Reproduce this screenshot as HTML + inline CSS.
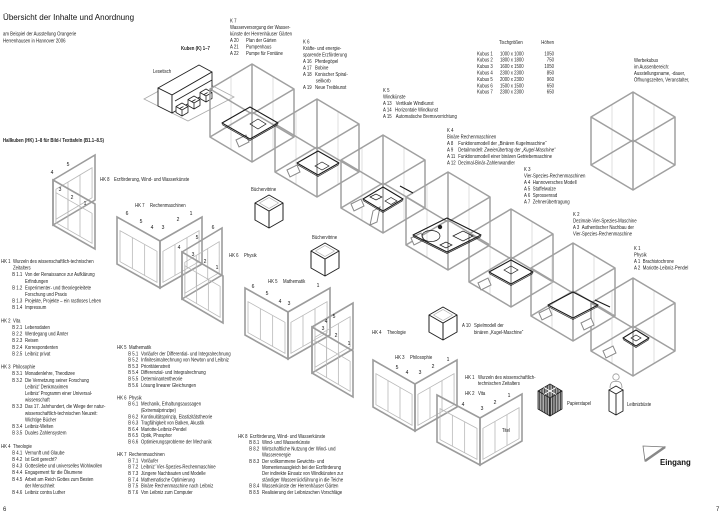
<!DOCTYPE html>
<html><head><meta charset="utf-8">
<style>
html,body{margin:0;padding:0;background:#fff;}
svg{display:block}
text{font-family:"Liberation Sans",sans-serif;font-size:5.4px;fill:#222}
.b{font-weight:bold}
.nm text{font-size:5px;fill:#111;text-anchor:middle}
.w rect{fill:none;stroke:#9c9c9c;stroke-width:1.6;vector-effect:non-scaling-stroke}
.w path{fill:none;stroke:#b8b8b8;stroke-width:.8;vector-effect:non-scaling-stroke}
</style></head><body>
<svg width="726" height="520" viewBox="0 0 726 520" xmlns="http://www.w3.org/2000/svg">
<defs>
<g id="cube" fill="none">
<path stroke="#d2d2d2" stroke-width=".7" d="M-21 12.5V60.5M21 12.5V60.5M-21 37.5V85.5M21 37.5V85.5"/>
<path stroke="#a0a0a0" stroke-width="1.5" stroke-linejoin="round" d="M0 0L42 25V73L0 98L-42 73V25ZM-42 25L0 50L42 25M0 50V98M0 0V48M-42 73L0 48L42 73"/>
</g>
<g id="sc">
<path fill="#fff" stroke="#222" stroke-width="1" stroke-linejoin="round" d="M0 0L14 8V25L0 33L-14 25V8Z"/>
<path fill="none" stroke="#222" stroke-width="1" d="M-14 8L0 16L14 8M0 16V33"/>
<path fill="none" stroke="#aaa" stroke-width=".6" d="M0 2.5L9.5 8L0 13.5L-9.5 8Z"/>
</g>
<g id="st">
<path fill="#fff" stroke="#222" stroke-width=".8" stroke-linejoin="round" d="M0 0L6 3.5V9.5L0 13L-6 9.5V3.5ZM-6 3.5L0 7L6 3.5M0 7V13"/>
</g>
<path id="sg" d="M0 2L10-3L13 4L3 9Z"/>
<pattern id="h" width="1.6" height="4" patternUnits="userSpaceOnUse"><rect width="1.6" height="4" fill="#ddd"/><rect width="0.9" height="4" fill="#333"/></pattern>
</defs>

<!-- Title block -->
<g transform="translate(3,0) scale(.96,1)"><text y="20" style="font-size:8.4px;fill:#111">Übersicht der Inhalte und Anordnung</text></g>
<g transform="translate(3,0) scale(.8,1)">
<text y="35.5">am Beispiel der Ausstellung Orangerie</text>
<text y="42.5">Herrenhausen in Hannover 2006</text>
<text y="142" class="b">Hallkuben (HK) 1–8 für Bild-/ Texttafeln (B1.1–8.5)</text>
</g>

<!-- Lesetisch -->
<polygon fill="none" stroke="#aaa" stroke-width=".8" points="144,99 190,74 234,97 188,121"/>
<g fill="#fff" stroke="#222" stroke-width=".9" stroke-linejoin="round">
<polygon points="158,88 199,65 212,72 172,95"/>
<polygon points="158,88 172,95 172,113 158,106"/>
<polygon points="172,95 212,72 212,90 172,113"/>
<path fill="none" d="M175 101L212 80"/>
</g>
<use href="#st" x="182" y="103"/>
<use href="#st" x="194" y="96"/>
<use href="#st" x="206" y="89"/>

<!-- Cubes chain -->
<use href="#cube" x="252" y="64"/>
<use href="#cube" x="317" y="99"/>
<use href="#cube" x="383" y="135"/>
<use href="#cube" x="448" y="172"/>
<use href="#cube" x="511" y="209"/>
<use href="#cube" x="573" y="243"/>
<use href="#cube" x="633" y="278"/>
<!-- Werbekubus -->
<use href="#cube" x="633" y="92"/>

<!-- signs -->
<g fill="#fff" stroke="#8a8a8a" stroke-width="1">
<use href="#sg" x="236" y="138"/>
<use href="#sg" x="287" y="168"/>
<use href="#sg" x="351" y="202"/>
<use href="#sg" x="411" y="236"/>
<use href="#sg" x="478" y="281"/>
<use href="#sg" x="539" y="311"/>
<use href="#sg" x="581" y="321"/>
<use href="#sg" x="603" y="349"/>
<path d="M373 211L380 207L377 222L370 225Z"/>
</g>

<!-- tables -->
<g fill="none" stroke="#1a1a1a" stroke-width="1.1" stroke-linejoin="round">
<polygon points="222,123 250,107 278,123 250,139"/>
<polygon points="297,163 318,151 339,163 318,175"/>
<polygon points="363,199 383,187 403,199 383,211"/>
<polygon points="413,235 447,218 481,235 447,252"/>
<polygon points="489,272 511,260 533,272 511,284"/>
<polygon points="548,305 573,292 598,305 573,318"/>
<polygon points="623,338 636,330 649,338 636,346"/>
</g>
<g fill="none" stroke="#1a1a1a" stroke-width=".7">
<path d="M222 124.5L250 140.5L278 124.5M297 164.5L318 176.5L339 164.5M363 200.5L383 212.5L403 200.5M413 236.5L447 253.5L481 236.5M489 273.5L511 285.5L533 273.5M548 306.5L573 319.5L598 306.5M623 339.5L636 347.5L649 339.5"/>
<polygon points="250,124 258,119 266,124 258,129"/>
<polygon points="315,166 322,162 329,166 322,170"/>
<polygon points="385,201 391,197.5 397,201 391,204.5"/>
<polygon points="370,197 376,194 382,197 376,200"/>
<ellipse cx="431" cy="236" rx="9" ry="5.5"/>
<polygon points="453,236 463,231 473,236 463,241"/>
<polygon points="440,245 446,242 452,245 446,248"/>
<polygon points="504,270 511,266 518,270 511,274"/>
<polygon points="631,338 636,335 641,338 636,341"/>
<path stroke-width="1.1" d="M400 186L413 193M595 300L610 307"/>
</g>
<circle cx="440" cy="227" r="2.2" fill="#222"/>

<!-- Buechervitrinen / A10 -->
<use href="#sc" x="269" y="195"/>
<use href="#sc" x="325" y="243"/>
<use href="#sc" x="443" y="307"/>

<!-- HK walls -->
<g class="w" transform="matrix(42,-25,0,1,53,180)"><rect width="1" height="45"/><path d="M.07 11H.93V41H.07ZM.357 11V41M.643 11V41"/></g>
<g class="w" transform="matrix(42,24,0,1,53,180)"><rect width="1" height="45"/><path d="M.07 11H.93V41H.07ZM.357 11V41M.643 11V41"/></g>
<g class="w" transform="matrix(43,24,0,1,117,217)"><rect width="1" height="47"/><path d="M.07 12H.93V43H.07ZM.357 12V43M.643 12V43"/></g>
<g class="w" transform="matrix(42,-24,0,1,160,241)"><rect width="1" height="47"/><path d="M.07 12H.93V43H.07ZM.357 12V43M.643 12V43"/></g>
<g class="w" transform="matrix(40,-24,0,1,182,252)"><rect width="1" height="47"/><path d="M.07 12H.93V43H.07ZM.357 12V43M.643 12V43"/></g>
<g class="w" transform="matrix(41,24,0,1,182,252)"><rect width="1" height="47"/><path d="M.07 12H.93V43H.07ZM.357 12V43M.643 12V43"/></g>
<g class="w" transform="matrix(43,24,0,1,245,288)"><rect width="1" height="47"/><path d="M.07 12H.93V43H.07ZM.357 12V43M.643 12V43"/></g>
<g class="w" transform="matrix(42,-24,0,1,288,312)"><rect width="1" height="47"/><path d="M.07 12H.93V43H.07ZM.357 12V43M.643 12V43"/></g>
<g class="w" transform="matrix(41,-24,0,1,312,327)"><rect width="1" height="46"/><path d="M.07 12H.93V42H.07ZM.357 12V42M.643 12V42"/></g>
<g class="w" transform="matrix(41,24,0,1,312,327)"><rect width="1" height="46"/><path d="M.07 12H.93V42H.07ZM.357 12V42M.643 12V42"/></g>
<g class="w" transform="matrix(42,24,0,1,373,360)"><rect width="1" height="47"/><path d="M.07 12H.93V43H.07ZM.357 12V43M.643 12V43"/></g>
<g class="w" transform="matrix(42,-24,0,1,415,384)"><rect width="1" height="47"/><path d="M.07 12H.93V43H.07ZM.357 12V43M.643 12V43"/></g>
<g class="w" transform="matrix(43,23,0,1,437,395)"><rect width="1" height="47"/><path d="M.07 12H.93V43H.07ZM.357 12V43M.643 12V43"/></g>
<g class="w" transform="matrix(42,-24,0,1,480,418)"><rect width="1" height="47"/><path d="M.07 12H.93V43H.07ZM.357 12V43M.643 12V43"/></g>

<!-- wall numbers -->
<g class="nm">
<text x="68" y="166">5</text><text x="52" y="174">4</text><text x="60" y="191">3</text><text x="72" y="199">2</text><text x="85" y="205">1</text>
<text x="127" y="215">6</text><text x="141" y="223">5</text><text x="152" y="229">4</text><text x="163" y="229">3</text><text x="178" y="221">2</text><text x="191" y="215">1</text>
<text x="197" y="239">5</text><text x="179" y="249">4</text><text x="213" y="229">6</text><text x="193" y="256">3</text><text x="205" y="263">2</text><text x="217" y="269">1</text>
<text x="253" y="288">6</text><text x="267" y="295">5</text><text x="280" y="303">4</text><text x="289" y="305">3</text><text x="318" y="287">1</text>
<text x="334" y="318">5</text><text x="326" y="323">4</text><text x="323" y="330">3</text><text x="336" y="337">2</text><text x="349" y="345">1</text>
<text x="397" y="369">5</text><text x="407" y="374">4</text><text x="420" y="374">3</text><text x="433" y="368">2</text><text x="448" y="361">1</text>
<text x="463" y="406">4</text><text x="482" y="410">3</text><text x="495" y="404">2</text><text x="509" y="397">1</text>
</g>

<!-- Papierstapel -->
<g stroke="#222" stroke-width=".8" stroke-linejoin="round" fill="url(#h)">
<polygon points="550,384 562,391 550,398 538,391"/>
<polygon points="538,391 550,398 550,416 538,409"/>
<polygon points="550,398 562,391 562,409 550,416"/>
</g>
<path d="M544 387.5L556 394.5M556 387.5L544 394.5" stroke="#fff" stroke-width="1"/>

<!-- Leibnizbueste -->
<circle cx="616" cy="377" r="3.2" fill="none" stroke="#999" stroke-width=".8"/>
<path d="M610 388Q610 382 614 381.5H618Q622 382 622 388" fill="none" stroke="#999" stroke-width=".8"/>
<polygon points="609,390 616,386 623,390 616,394" fill="#fff" stroke="#222" stroke-width=".9"/>
<path d="M609 390V411L616 415L623 411V390M616 394V415" fill="none" stroke="#222" stroke-width=".9"/>

<!-- Eingang arrow -->
<polygon points="643,446 665,447 645,461" fill="none" stroke="#777" stroke-width=".8"/>
<path d="M645 461L665 447" stroke="#888" stroke-width="2.5"/>
<g transform="translate(660,0) scale(.92,1)"><text y="465" class="b" style="font-size:8.5px;fill:#111">Eingang</text></g>

<!-- Scattered labels (scaled group: x = abs*1.25) -->
<g transform="scale(.8,1)">
<text x="226.25" y="50" class="b">Kuben (K) 1–7</text>
<text x="191.25" y="73">Lesetisch</text>
<text x="125" y="181">HK 8</text><text x="142.5" y="181">Erzförderung, Wind- und Wasserkünste</text>
<text x="168.75" y="207">HK 7</text><text x="187.5" y="207">Rechenmaschinen</text>
<text x="286.25" y="257">HK 6</text><text x="305" y="257">Physik</text>
<text x="335" y="283">HK 5</text><text x="353.75" y="283">Mathematik</text>
<text x="465" y="334">HK 4</text><text x="483.75" y="334">Theologie</text>
<text x="493.75" y="359">HK 3</text><text x="512.5" y="359">Philosophie</text>
<text x="581.25" y="379">HK 1</text><text x="597.5" y="379">Wurzeln des wissenschaftlich-</text>
<text x="597.5" y="385">technischen Zeitalters</text>
<text x="581.25" y="395">HK 2</text><text x="597.5" y="395">Vita</text>
<text x="313.75" y="191">Büchervitrine</text>
<text x="390" y="239">Büchervitrine</text>
<text x="577.5" y="327">A 10</text><text x="592.5" y="327">Spielmodell der</text>
<text x="592.5" y="334">binären „Kugel-Maschine“</text>
<text x="708.75" y="405">Papierstapel</text>
<text x="783.75" y="406">Leibnizbüste</text>
<text x="627.5" y="432">Titel</text>
</g>

<!-- K7 -->
<g transform="translate(230,0) scale(.8,1)">
<text y="22.7">K 7</text>
<text y="29.2">Wasserversorgung der Wasser-</text>
<text y="35.7">künste der Herrenhäuser Gärten</text>
<text y="42.2">A 20</text><text x="20" y="42.2">Plan der Gärten</text>
<text y="48.7">A 21</text><text x="20" y="48.7">Pumpenhaus</text>
<text y="55.2">A 22</text><text x="20" y="55.2">Pumpe für Fontäne</text>
</g>
<!-- K6 -->
<g transform="translate(303,0) scale(.8,1)">
<text y="43.7">K 6</text>
<text y="50.2">Kräfte- und energie-</text>
<text y="56.6">sparende Erzförderung</text>
<text y="63.1">A 16</text><text x="15" y="63.1">Pferdegöpel</text>
<text y="69.5">A 17</text><text x="15" y="69.5">Bobine</text>
<text y="76">A 18</text><text x="15" y="76">Konischer Spiral-</text>
<text x="16" y="82.4">seilkorb</text>
<text y="88.9">A 19</text><text x="15" y="88.9">Neue Treibkunst</text>
</g>
<!-- K5 -->
<g transform="translate(383,0) scale(.8,1)">
<text y="92">K 5</text>
<text y="98.5">Windkünste</text>
<text y="105">A 13</text><text x="16" y="105">Vertikale Windkunst</text>
<text y="111.5">A 14</text><text x="15" y="111.5">Horizontale Windkunst</text>
<text y="118">A 15</text><text x="16" y="118">Automatische Bremsvorrichtung</text>
</g>
<!-- K4 -->
<g transform="translate(447,0) scale(.8,1)">
<text y="132">K 4</text>
<text y="138.5">Binäre Rechenmaschinen</text>
<text y="145">A 8</text><text x="14" y="145">Funktionsmodell der „Binären Kugelmaschine“</text>
<text y="151.5">A 9</text><text x="14" y="151.5">Detailmodell: <tspan font-style="italic">Zweierübertrag der „Kugel-Maschine“</tspan></text>
<text y="158">A 11</text><text x="14" y="158">Funktionsmodell einer binären Getriebemaschine</text>
<text y="164.5">A 12</text><text x="14" y="164.5">Dezimal-Binär-Zahlenwandler</text>
</g>
<!-- K3 -->
<g transform="translate(524,0) scale(.8,1)">
<text y="171">K 3</text>
<text y="177.5">Vier-Spezies-Rechenmaschinen</text>
<text y="184">A 4</text><text x="11" y="184">Hannoversches Modell</text>
<text y="190.5">A 5</text><text x="11" y="190.5">Staffelwalze</text>
<text y="197">A 6</text><text x="11" y="197">Sprossenrad</text>
<text y="203.5">A 7</text><text x="11" y="203.5">Zehnerübertragung</text>
</g>
<!-- K2 -->
<g transform="translate(573,0) scale(.8,1)">
<text y="216">K 2</text>
<text y="222.5">Dezimale-Vier-Spezies-Maschine</text>
<text y="229">A 3</text><text x="11" y="229">Authentischer Nachbau der</text>
<text y="235.5">Vier-Spezies-Rechenmaschine</text>
</g>
<!-- K1 -->
<g transform="translate(634,0) scale(.8,1)">
<text y="250">K 1</text>
<text y="256.5">Physik</text>
<text y="263">A 1</text><text x="11" y="263">Brachistochrone</text>
<text y="269.5">A 2</text><text x="11" y="269.5">Mariotte-Leibniz-Pendel</text>
</g>

<!-- Table -->
<g transform="translate(477,0) scale(.8,1)">
<text x="27.5" y="44">Tischgrößen</text><text x="96.25" y="44" text-anchor="end">Höhen</text>
<text y="55.3">Kubus 1</text><text x="28.75" y="55.3">1000 x 1000</text><text x="96.25" y="55.3" text-anchor="end">1050</text>
<text y="61.7">Kubus 2</text><text x="28.75" y="61.7">1800 x 1800</text><text x="96.25" y="61.7" text-anchor="end">750</text>
<text y="68.1">Kubus 3</text><text x="28.75" y="68.1">1600 x 1500</text><text x="96.25" y="68.1" text-anchor="end">1050</text>
<text y="74.5">Kubus 4</text><text x="28.75" y="74.5">2300 x 2300</text><text x="96.25" y="74.5" text-anchor="end">850</text>
<text y="80.9">Kubus 5</text><text x="28.75" y="80.9">2000 x 2300</text><text x="96.25" y="80.9" text-anchor="end">960</text>
<text y="87.3">Kubus 6</text><text x="28.75" y="87.3">1500 x 1500</text><text x="96.25" y="87.3" text-anchor="end">650</text>
<text y="93.7">Kubus 7</text><text x="28.75" y="93.7">2300 x 2300</text><text x="96.25" y="93.7" text-anchor="end">650</text>
</g>
<!-- Werbekubus text -->
<g transform="translate(634,0) scale(.8,1)">
<text y="62">Werbekubus</text>
<text y="68.5">im Aussenbereich:</text>
<text y="75">Ausstellungsname, -dauer,</text>
<text y="81.5">Öffnungszeiten, Veranstalter,</text>
</g>

<!-- Left column -->
<g transform="translate(1,0) scale(.8,1)">
<text y="263">HK 1</text><text x="15" y="263">Wurzeln des wissenschaftlich-technischen</text>
<text x="15" y="269.6">Zeitalters</text>
<text x="14" y="276.2">B 1.1</text><text x="30" y="276.2">Von der Renaissance zur Aufklärung</text>
<text x="30" y="282.8">Erfindungen</text>
<text x="14" y="289.4">B 1.2</text><text x="30" y="289.4">Experimenter- und theoriegeleitete</text>
<text x="30" y="296">Forschung und Praxis</text>
<text x="14" y="302.6">B 1.3</text><text x="30" y="302.6">Projekte, Projekte – ein rastloses Leben</text>
<text x="14" y="309.2">B 1.4</text><text x="30" y="309.2">Impressum</text>
<text y="322.4">HK 2</text><text x="15" y="322.4">Vita</text>
<text x="14" y="329">B 2.1</text><text x="30" y="329">Lebensdaten</text>
<text x="14" y="335.6">B 2.2</text><text x="30" y="335.6">Werdegang und Ämter</text>
<text x="14" y="342.2">B 2.3</text><text x="30" y="342.2">Reisen</text>
<text x="14" y="348.8">B 2.4</text><text x="30" y="348.8">Korrespondenten</text>
<text x="14" y="355.4">B 2.5</text><text x="30" y="355.4">Leibniz privat</text>
<text y="368.6">HK 3</text><text x="15" y="368.6">Philosophie</text>
<text x="14" y="375.2">B 3.1</text><text x="30" y="375.2">Monadenlehre, Theodizee</text>
<text x="14" y="381.8">B 3.2</text><text x="30" y="381.8">Die Vernetzung seiner Forschung</text>
<text x="30" y="388.4">Leibniz' Denkmaximen</text>
<text x="30" y="395">Leibniz' Programm einer Universal-</text>
<text x="30" y="401.6">wissenschaft</text>
<text x="14" y="408.2">B 3.3</text><text x="30" y="408.2">Das 17. Jahrhundert, die Wiege der natur-</text>
<text x="30" y="414.8">wissenschaftlich-technischen Neuzeit:</text>
<text x="30" y="421.4">Wichtige Bücher</text>
<text x="14" y="428">B 3.4</text><text x="30" y="428">Leibniz-Welten</text>
<text x="14" y="434.6">B 3.5</text><text x="30" y="434.6">Duales Zahlensystem</text>
<text y="447.8">HK 4</text><text x="15" y="447.8">Theologie</text>
<text x="14" y="454.4">B 4.1</text><text x="30" y="454.4">Vernunft und Glaube</text>
<text x="14" y="461">B 4.2</text><text x="30" y="461">Ist Gott gerecht?</text>
<text x="14" y="467.6">B 4.3</text><text x="30" y="467.6">Gottesliebe und universelles Wohlwollen</text>
<text x="14" y="474.2">B 4.4</text><text x="30" y="474.2">Engagement für die Ökumene</text>
<text x="14" y="480.8">B 4.5</text><text x="30" y="480.8">Arbeit am Reich Gottes zum Besten</text>
<text x="30" y="487.4">der Menschheit</text>
<text x="14" y="494">B 4.6</text><text x="30" y="494">Leibniz contra Luther</text>
</g>

<!-- Middle column -->
<g transform="translate(117,0) scale(.8,1)">
<text y="349">HK 5</text><text x="15" y="349">Mathematik</text>
<text x="14" y="355.3">B 5.1</text><text x="30" y="355.3">Vorläufer der Differential- und Integralrechnung</text>
<text x="14" y="361.6">B 5.2</text><text x="30" y="361.6">Infinitesimalrechnung von Newton und Leibniz</text>
<text x="14" y="367.9">B 5.3</text><text x="30" y="367.9">Prioritätenstreit</text>
<text x="14" y="374.2">B 5.4</text><text x="30" y="374.2">Differenzial- und Integralrechnung</text>
<text x="14" y="380.5">B 5.5</text><text x="30" y="380.5">Determinantentheorie</text>
<text x="14" y="386.8">B 5.6</text><text x="30" y="386.8">Lösung linearer Gleichungen</text>
<text y="399.4">HK 6</text><text x="15" y="399.4">Physik</text>
<text x="14" y="405.7">B 6.1</text><text x="30" y="405.7">Mechanik, Erhaltungsaussagen</text>
<text x="30" y="412">(Extremalprinzipe)</text>
<text x="14" y="418.3">B 6.2</text><text x="30" y="418.3">Kontinuitätsprinzip, Elastizitätstheorie</text>
<text x="14" y="424.6">B 6.3</text><text x="30" y="424.6">Tragfähigkeit von Balken, Akustik</text>
<text x="14" y="430.9">B 6.4</text><text x="30" y="430.9">Mariotte-Leibniz-Pendel</text>
<text x="14" y="437.2">B 6.5</text><text x="30" y="437.2">Optik, Phosphor</text>
<text x="14" y="443.5">B 6.6</text><text x="30" y="443.5">Optimierungsprobleme der Mechanik</text>
<text y="456.1">HK 7</text><text x="15" y="456.1">Rechenmaschinen</text>
<text x="14" y="462.4">B 7.1</text><text x="30" y="462.4">Vorläufer</text>
<text x="14" y="468.7">B 7.2</text><text x="30" y="468.7">Leibniz' Vier-Spezies-Rechenmaschine</text>
<text x="14" y="475">B 7.3</text><text x="30" y="475">Jüngere Nachbauten und Modelle</text>
<text x="14" y="481.3">B 7.4</text><text x="30" y="481.3">Mathematische Optimierung</text>
<text x="14" y="487.6">B 7.5</text><text x="30" y="487.6">Binäre Rechenmaschine nach Leibniz</text>
<text x="14" y="493.9">B 7.6</text><text x="30" y="493.9">Von Leibniz zum Computer</text>
</g>

<!-- HK8 column -->
<g transform="translate(238,0) scale(.8,1)">
<text y="438">HK 8</text><text x="15" y="438">Erzförderung, Wind- und Wasserkünste</text>
<text x="14" y="444.2">B 8.1</text><text x="30" y="444.2">Wind- und Wasserkünste</text>
<text x="14" y="450.4">B 8.2</text><text x="30" y="450.4">Wirtschaftliche Nutzung der Wind- und</text>
<text x="30" y="456.6">Wasserenergie</text>
<text x="14" y="462.8">B 8.3</text><text x="30" y="462.8">Der vollkommene Gewichts- und</text>
<text x="30" y="469">Momentenausgleich bei der Erzförderung</text>
<text x="30" y="475.2">Der indirekte Einsatz von Windkünsten zur</text>
<text x="30" y="481.4">ständiger Wasserrückführung in die Teiche</text>
<text x="14" y="487.6">B 8.4</text><text x="30" y="487.6">Wasserkünste der Herrenhäuser Gärten</text>
<text x="14" y="493.8">B 8.5</text><text x="30" y="493.8">Realisierung der Leibnizschen Vorschläge</text>
</g>

<!-- page numbers -->
<text x="3" y="511" style="font-size:6px">6</text>
<text x="716" y="511" style="font-size:6px">7</text>
</svg>
</body></html>
